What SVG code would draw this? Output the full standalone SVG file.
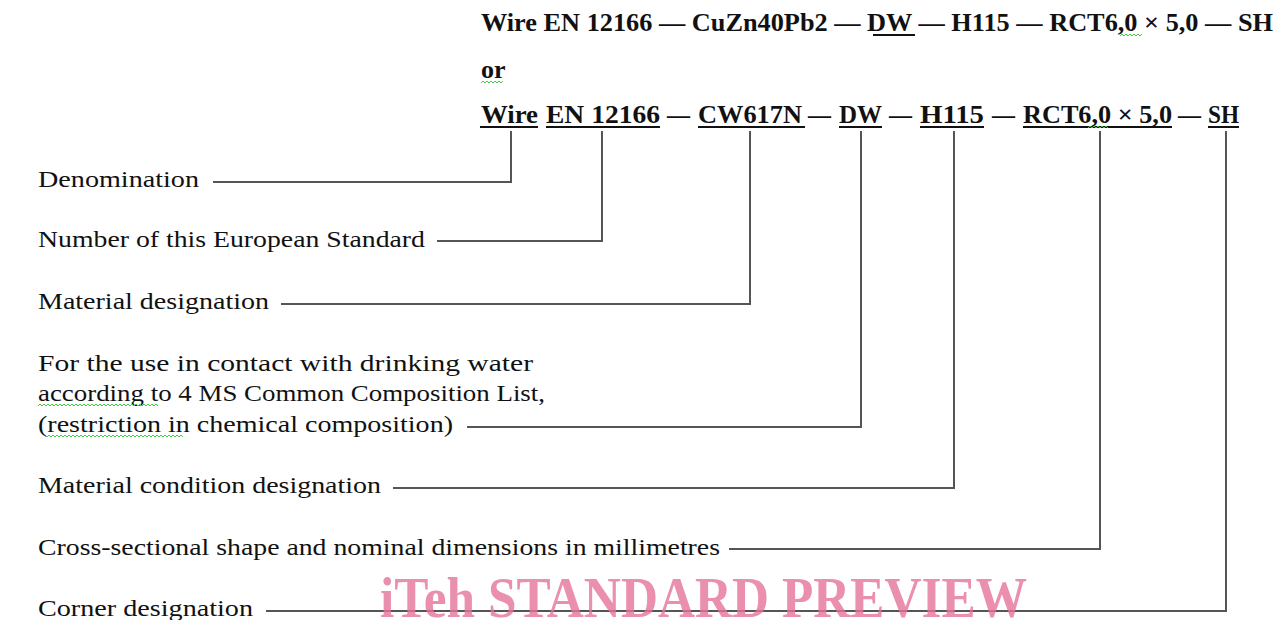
<svg xmlns="http://www.w3.org/2000/svg" width="1277" height="620" viewBox="0 0 1277 620">
<style>
.h{font-family:"Liberation Serif","DejaVu Serif",serif;font-weight:bold;font-size:26px;fill:#111}
.t{font-family:"Liberation Serif","DejaVu Serif",serif;font-size:24px;fill:#111}
.u{stroke:#111;stroke-width:2;fill:none}
.c{stroke:#555;stroke-width:2;fill:none}
.sq{stroke:#4c4;stroke-width:1;fill:none}
.wm{font-family:"Liberation Serif","DejaVu Serif",serif;font-weight:bold;font-size:56px;fill:#e57399;fill-opacity:0.8}
</style>
<rect width="1277" height="620" fill="#fff"/>
<g id="header">
<text class="h" x="481" y="31" textLength="792" lengthAdjust="spacingAndGlyphs">Wire EN 12166 — CuZn40Pb2 — DW — H115 — RCT6,0 × 5,0 — SH</text>
<line class="u" x1="873" y1="35" x2="915" y2="35"/>
<path class="sq" d="M1120 36 l2 -2 l2 2 l2 -2 l2 2 l2 -2 l2 2 l2 -2 l2 2 l2 -2 l2 2 l2 -2"/>
<text class="h" x="481" y="78">or</text>
<path class="sq" d="M481 83 l2 -2 l2 2 l2 -2 l2 2 l2 -2 l2 2 l2 -2 l2 2 l2 -2 l2 2 l2 -2"/>
</g>
<g id="designation">
<text class="h" x="481" y="123" textLength="57" lengthAdjust="spacingAndGlyphs">Wire</text>
<text class="h" x="546" y="123" textLength="114" lengthAdjust="spacingAndGlyphs">EN 12166</text>
<text class="h" x="667" y="123" textLength="23" lengthAdjust="spacingAndGlyphs">—</text>
<text class="h" x="698" y="123" textLength="104" lengthAdjust="spacingAndGlyphs">CW617N</text>
<text class="h" x="808" y="123" textLength="23" lengthAdjust="spacingAndGlyphs">—</text>
<text class="h" x="839" y="123" textLength="43" lengthAdjust="spacingAndGlyphs">DW</text>
<text class="h" x="889" y="123" textLength="23" lengthAdjust="spacingAndGlyphs">—</text>
<text class="h" x="920" y="123" textLength="64" lengthAdjust="spacingAndGlyphs">H115</text>
<text class="h" x="992" y="123" textLength="23" lengthAdjust="spacingAndGlyphs">—</text>
<text class="h" x="1023" y="123" textLength="149" lengthAdjust="spacingAndGlyphs">RCT6,0 × 5,0</text>
<text class="h" x="1178" y="123" textLength="23" lengthAdjust="spacingAndGlyphs">—</text>
<text class="h" x="1208" y="123" textLength="31" lengthAdjust="spacingAndGlyphs">SH</text>
<line class="u" x1="480" y1="127" x2="538" y2="127"/>
<line class="u" x1="546" y1="127" x2="660" y2="127"/>
<line class="u" x1="698" y1="127" x2="805" y2="127"/>
<line class="u" x1="839" y1="127" x2="882" y2="127"/>
<line class="u" x1="920" y1="127" x2="984" y2="127"/>
<line class="u" x1="1023" y1="127" x2="1172" y2="127"/>
<line class="u" x1="1208" y1="127" x2="1239" y2="127"/>
<path class="sq" d="M1088 128 l2 -2 l2 2 l2 -2 l2 2 l2 -2 l2 2 l2 -2 l2 2 l2 -2 l2 2"/>
</g>
<g id="denomination"><text class="t" x="38" y="187" textLength="161" lengthAdjust="spacingAndGlyphs">Denomination</text></g>
<g id="standard-number"><text class="t" x="38" y="247" textLength="387" lengthAdjust="spacingAndGlyphs">Number of this European Standard</text></g>
<g id="material-designation"><text class="t" x="38" y="309" textLength="231" lengthAdjust="spacingAndGlyphs">Material designation</text></g>
<g id="drinking-water">
<text class="t" x="38" y="371" textLength="495" lengthAdjust="spacingAndGlyphs">For the use in contact with drinking water</text>
<text class="t" x="38" y="401" textLength="507" lengthAdjust="spacingAndGlyphs">according to 4 MS Common Composition List,</text>
<text class="t" x="38" y="432" textLength="415" lengthAdjust="spacingAndGlyphs">(restriction in chemical composition)</text>
<path class="sq" d="M38 406 l2 -2 l2 2 l2 -2 l2 2 l2 -2 l2 2 l2 -2 l2 2 l2 -2 l2 2 l2 -2 l2 2 l2 -2 l2 2 l2 -2 l2 2 l2 -2 l2 2 l2 -2 l2 2 l2 -2 l2 2 l2 -2 l2 2 l2 -2 l2 2 l2 -2 l2 2 l2 -2 l2 2 l2 -2 l2 2 l2 -2 l2 2 l2 -2 l2 2 l2 -2 l2 2 l2 -2 l2 2 l2 -2 l2 2 l2 -2 l2 2 l2 -2 l2 2 l2 -2 l2 2 l2 -2 l2 2 l2 -2 l2 2 l2 -2 l2 2 l2 -2 l2 2 l2 -2 l2 2 l2 -2 l2 2"/>
<path class="sq" d="M47 437 l2 -2 l2 2 l2 -2 l2 2 l2 -2 l2 2 l2 -2 l2 2 l2 -2 l2 2 l2 -2 l2 2 l2 -2 l2 2 l2 -2 l2 2 l2 -2 l2 2 l2 -2 l2 2 l2 -2 l2 2 l2 -2 l2 2 l2 -2 l2 2 l2 -2 l2 2 l2 -2 l2 2 l2 -2 l2 2 l2 -2 l2 2 l2 -2 l2 2 l2 -2 l2 2 l2 -2 l2 2 l2 -2 l2 2 l2 -2 l2 2 l2 -2 l2 2 l2 -2 l2 2 l2 -2 l2 2 l2 -2 l2 2 l2 -2 l2 2 l2 -2 l2 2 l2 -2 l2 2 l2 -2 l2 2 l2 -2 l2 2 l2 -2 l2 2 l2 -2 l2 2 l2 -2 l2 2"/>
</g>
<g id="condition"><text class="t" x="38" y="493" textLength="343" lengthAdjust="spacingAndGlyphs">Material condition designation</text></g>
<g id="cross-section"><text class="t" x="38" y="555" textLength="682" lengthAdjust="spacingAndGlyphs">Cross-sectional shape and nominal dimensions in millimetres</text></g>
<g id="corner"><text class="t" x="38" y="616" textLength="215" lengthAdjust="spacingAndGlyphs">Corner designation</text></g>
<g id="connectors">
<polyline class="c" points="213,182 511,182 511,131"/>
<polyline class="c" points="437,241 602,241 602,131"/>
<polyline class="c" points="281,304 750,304 750,131"/>
<polyline class="c" points="467,427 861,427 861,131"/>
<polyline class="c" points="393,488 954,488 954,131"/>
<polyline class="c" points="729,549 1100,549 1100,131"/>
<polyline class="c" points="266,611 1226,611 1226,131"/>
</g>
<g id="watermark"><text class="wm" x="380" y="617" textLength="647" lengthAdjust="spacingAndGlyphs">iTeh STANDARD PREVIEW</text></g>
</svg>
